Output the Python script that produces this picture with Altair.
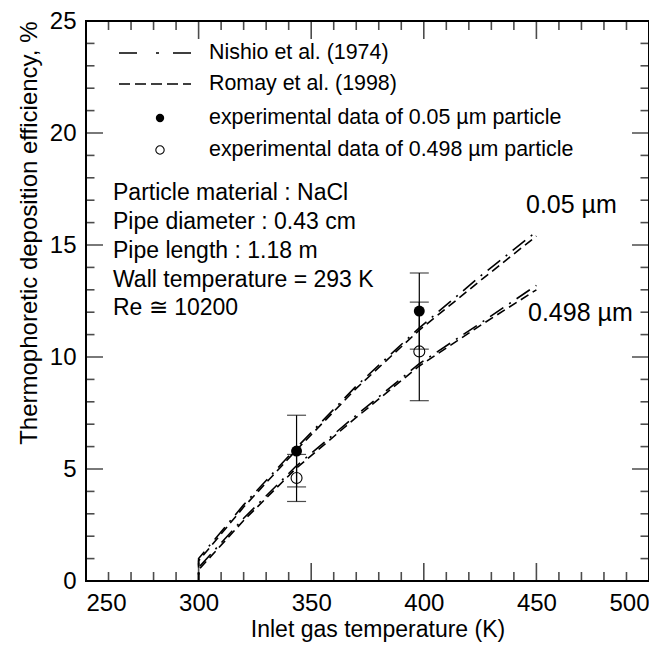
import altair as alt
import pandas as pd

# ---------------- data ----------------
temp_curve = [250, 300, 300, 320, 343, 370, 398, 425, 450]
nishio_005 = [0, 0, 1.0, 3.4, 5.9, 8.7, 11.3, 13.6, 15.6]
romay_005 = [0, 0, 0.9, 3.3, 5.8, 8.6, 11.2, 13.4, 15.4]
nishio_0498 = [0, 0, 0.6, 2.8, 5.1, 7.4, 9.7, 11.5, 13.2]
romay_0498 = [0, 0, 0.5, 2.7, 5.0, 7.3, 9.6, 11.4, 13.0]

temp_exp = [343.5, 398]
eff_005 = [5.8, 12.05]
err_005 = [1.6, 1.7]
eff_0498 = [4.6, 10.25]
err_0498 = [1.05, 2.2]

x_major = [250, 300, 350, 400, 450, 500]
x_minor = [t for t in range(250, 501, 10) if t % 50 != 0]
y_major = [0, 5, 10, 15, 20, 25]
y_minor = [v for v in range(0, 26) if v % 5 != 0]

legend_labels = ["Nishio et al. (1974)", "Romay et al. (1998)",
                 "experimental data of 0.05 \u00b5m particle",
                 "experimental data of 0.498 \u00b5m particle"]
info_lines = ["Particle material : NaCl", "Pipe diameter : 0.43 cm",
              "Pipe length : 1.18 m", "Wall temperature = 293 K",
              "Re \u2245 10200"]
curve_labels = ["0.05 \u00b5m", "0.498 \u00b5m"]

# ---------------- build tables ----------------
FONT = "Liberation Sans"
W, H = 563, 560
XD, YD = [250, 500], [0, 25]

rows = []
for model, size, vals in [("Nishio", "0.05", nishio_005), ("Romay", "0.05", romay_005),
                          ("Nishio", "0.498", nishio_0498), ("Romay", "0.498", romay_0498)]:
    for i, (t, v) in enumerate(zip(temp_curve, vals)):
        rows.append({"T": t, "eff": v, "model": model, "size": size, "i": i,
                     "key": model + size})
curves = pd.DataFrame(rows)

exp_rows = []
for size, vals, errs in [("0.05", eff_005, err_005), ("0.498", eff_0498, err_0498)]:
    for t, v, e in zip(temp_exp, vals, errs):
        exp_rows.append({"T": t, "eff": v, "lo": v - e, "hi": v + e, "size": size})
exp = pd.DataFrame(exp_rows)
caps = pd.concat([exp.assign(c=exp["lo"]), exp.assign(c=exp["hi"])])

xs = alt.Scale(domain=XD, nice=False, zero=False)
ys = alt.Scale(domain=YD, nice=False, zero=False)

DASH_N = [16, 7, 2, 7]
DASH_R = [9, 5]

x_axis = alt.Axis(values=x_major, ticks=False, domain=False, grid=False,
                  labelFontSize=24, labelPadding=10, labelFont=FONT, labelColor="black",
                  title="Inlet gas temperature (K)", titleFont=FONT, titleFontSize=23,
                  titleFontWeight="normal", titleColor="black", titlePadding=3,
                  titleX=W / 2 + 10)
y_axis = alt.Axis(values=y_major, ticks=False, domain=False, grid=False,
                  labelFontSize=24, labelPadding=10, labelFont=FONT, labelColor="black",
                  title="Thermophoretic deposition efficiency, %", titleFont=FONT,
                  titleFontSize=24, titleFontWeight="normal", titleColor="black",
                  titleAnchor="end", titlePadding=8)


def X(field):
    return alt.X(field, scale=xs, axis=x_axis, title="Inlet gas temperature (K)")


def Y(field):
    return alt.Y(field, scale=ys, axis=y_axis, title="Thermophoretic deposition efficiency, %")


lines = alt.Chart(curves).mark_line(strokeWidth=1.6, color="black", clip=True).encode(
    x=X("T:Q"),
    y=Y("eff:Q"),
    strokeDash=alt.StrokeDash("model:N", scale=alt.Scale(domain=["Nishio", "Romay"],
                                                         range=[DASH_N, DASH_R]), legend=None),
    detail="key:N",
    order="i:Q",
)

ebar = alt.Chart(exp).mark_rule(color="black", strokeWidth=1.2).encode(
    x=X("T:Q"), y=Y("lo:Q"), y2="hi:Q")
ecap = alt.Chart(caps).mark_tick(orient="horizontal", size=19, thickness=1.2,
                                 color="black").encode(x=X("T:Q"), y=Y("c:Q"))
pts_f = alt.Chart(exp[exp["size"] == "0.05"]).mark_point(
    shape="circle", size=120, filled=True, color="black", opacity=1).encode(
    x=X("T:Q"), y=Y("eff:Q"))
pts_o = alt.Chart(exp[exp["size"] == "0.498"]).mark_point(
    shape="circle", size=120, filled=False, color="black", strokeWidth=1.1,
    opacity=1).encode(x=X("T:Q"), y=Y("eff:Q"))


# ---- inward ticks on all four sides ----
def vticks(vals, yv, length):
    df = pd.DataFrame({"T": vals, "v": yv})
    return alt.Chart(df).mark_tick(orient="vertical", size=length * 2, thickness=1.6,
                                   color="black", clip=True).encode(x=X("T:Q"), y=Y("v:Q"))


def hticks(vals, xv, length):
    df = pd.DataFrame({"v": vals, "T": xv})
    return alt.Chart(df).mark_tick(orient="horizontal", size=length * 2, thickness=1.6,
                                   color="black", clip=True).encode(x=X("T:Q"), y=Y("v:Q"))


ticks = [vticks(x_major, YD[0], 18), vticks(x_minor, YD[0], 9),
         vticks(x_major, YD[1], 18), vticks(x_minor, YD[1], 9),
         hticks(y_major, XD[0], 17), hticks(y_minor, XD[0], 8.5),
         hticks(y_major, XD[1], 17), hticks(y_minor, XD[1], 8.5)]

# ---- legend (drawn in data coordinates) ----
px_x = lambda p: XD[0] + (p - 85) * (XD[1] - XD[0]) / W
px_y = lambda p: YD[1] - (p - 18) * (YD[1] - YD[0]) / H
leg_y = [px_y(p) for p in (50, 81, 115, 147)]
leg_x0, leg_x1, leg_xm, leg_xt = px_x(118), px_x(190), px_x(159), px_x(208)

leg_text = alt.Chart(pd.DataFrame({"t": legend_labels, "T": leg_xt, "v": leg_y})).mark_text(
    align="left", baseline="middle", fontSize=21.4, font=FONT, color="black").encode(
    x=X("T:Q"), y=Y("v:Q"), text="t:N")
leg_n = alt.Chart(pd.DataFrame({"a": [leg_x0], "b": [leg_x1], "v": [leg_y[0]]})).mark_rule(
    strokeDash=[18, 19, 3, 14], strokeWidth=1.6, color="black").encode(
    x=X("a:Q"), x2="b:Q", y=Y("v:Q"))
leg_r = alt.Chart(pd.DataFrame({"a": [leg_x0], "b": [leg_x1], "v": [leg_y[1]]})).mark_rule(
    strokeDash=[11, 5], strokeWidth=1.6, color="black").encode(
    x=X("a:Q"), x2="b:Q", y=Y("v:Q"))
leg_f = alt.Chart(pd.DataFrame({"T": [leg_xm], "v": [leg_y[2]]})).mark_point(
    shape="circle", size=70, filled=True, color="black", opacity=1).encode(
    x=X("T:Q"), y=Y("v:Q"))
leg_o = alt.Chart(pd.DataFrame({"T": [leg_xm], "v": [leg_y[3]]})).mark_point(
    shape="circle", size=70, filled=False, color="black", strokeWidth=1.1, opacity=1).encode(
    x=X("T:Q"), y=Y("v:Q"))

info = alt.Chart(pd.DataFrame({"t": info_lines, "T": px_x(112),
                               "v": [px_y(p) for p in (190, 219, 248, 277, 305)]})).mark_text(
    align="left", baseline="middle", fontSize=23, font=FONT, color="black").encode(
    x=X("T:Q"), y=Y("v:Q"), text="t:N")

clab = alt.Chart(pd.DataFrame({"t": curve_labels, "T": [px_x(525), px_x(527)],
                               "v": [px_y(202), px_y(310)]})).mark_text(
    align="left", baseline="middle", fontSize=25, font=FONT, color="black").encode(
    x=X("T:Q"), y=Y("v:Q"), text="t:N")

chart = alt.layer(lines, ebar, ecap, pts_f, pts_o, *ticks, leg_n, leg_r, leg_f, leg_o,
                  leg_text, info, clab).properties(
    width=W, height=H, padding={"left": 9, "top": 1, "right": 0, "bottom": 5},
    background="white",
).configure_view(stroke="black", strokeWidth=2)

chart.save("out.html", embed_options={"renderer": "svg", "actions": False})
